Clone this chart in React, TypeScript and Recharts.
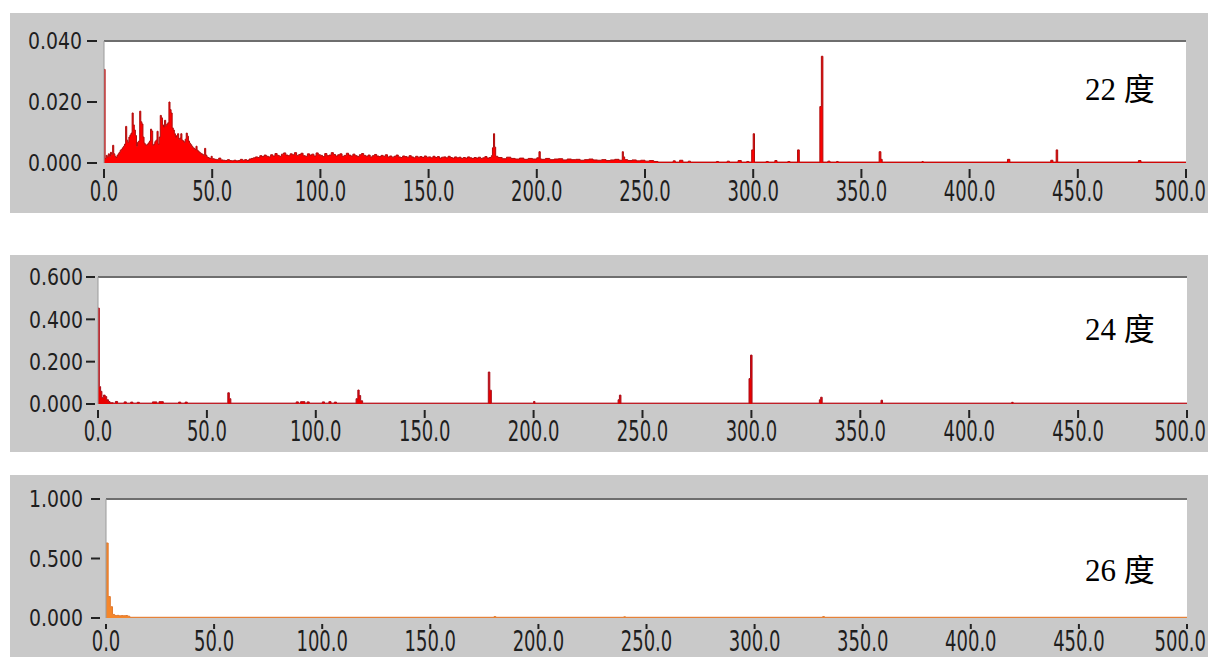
import { AreaChart, Area, XAxis, YAxis, CartesianGrid, ReferenceLine } from 'recharts'

const xTicks = [0, 50, 100, 150, 200, 250, 300, 350, 400, 450, 500]
const yTicks22 = [0, 0.02, 0.04]
const yTicks24 = [0, 0.2, 0.4, 0.6]
const yTicks26 = [0, 0.5, 1]
const panelLabels = ['22 度', '24 度', '26 度']

// [frequency, amplitude] (step plot)
const spec22: [number, number][] = [
    [0, 0.0307], [0.5, 0.0015], [1, 0.0025], [1.5, 0.002], [2, 0.003], [2.5, 0.0022], [3, 0.0035], [3.5, 0.0028],
    [4, 0.0058], [4.5, 0.003], [5, 0.0022], [5.5, 0.0018], [6, 0.0025], [6.5, 0.003], [7, 0.0035], [7.5, 0.0042],
    [8, 0.0045], [8.5, 0.005], [9, 0.0055], [9.5, 0.0062], [10, 0.012], [10.5, 0.0075], [11, 0.0068], [11.5, 0.0085],
    [12, 0.0092], [12.5, 0.0098], [13, 0.0164], [13.5, 0.0125], [14, 0.0108], [14.5, 0.009], [15, 0.0055], [15.5, 0.0068],
    [16, 0.0072], [16.5, 0.017], [17, 0.0135], [17.5, 0.0128], [18, 0.0085], [18.5, 0.0065], [19, 0.006], [19.5, 0.0058],
    [20, 0.0062], [20.5, 0.0066], [21, 0.0072], [21.5, 0.0111], [22, 0.0105], [22.5, 0.0058], [23, 0.0062], [23.5, 0.007],
    [24, 0.0075], [24.5, 0.0104], [25, 0.0062], [25.5, 0.0085], [26, 0.0156], [26.5, 0.0148], [27, 0.0125], [27.5, 0.0118],
    [28, 0.014], [28.5, 0.0122], [29, 0.0128], [29.5, 0.0132], [30, 0.02], [30.5, 0.0175], [31, 0.0164], [31.5, 0.0115],
    [32, 0.0108], [32.5, 0.0096], [33, 0.0085], [33.5, 0.009], [34, 0.0096], [34.5, 0.0078], [35, 0.0082], [35.5, 0.0096],
    [36, 0.0075], [36.5, 0.0072], [37, 0.0068], [37.5, 0.0078], [38, 0.0098], [38.5, 0.0088], [39, 0.0072], [39.5, 0.0065],
    [40, 0.006], [40.5, 0.0055], [41, 0.005], [41.5, 0.0048], [42, 0.0044], [42.5, 0.0055], [43, 0.0042], [43.5, 0.0038],
    [44, 0.0035], [44.5, 0.0032], [45, 0.003], [45.5, 0.0028], [46, 0.0024], [46.5, 0.0048], [47, 0.0026], [47.5, 0.002],
    [48, 0.0018], [48.5, 0.0016], [49, 0.0015], [49.5, 0.0022], [50, 0.0014], [51, 0.0012], [52, 0.0011], [53, 0.0016],
    [54, 0.001], [55, 0.0009], [56, 0.0008], [57, 0.0011], [58, 0.0008], [59, 0.0007], [60, 0.0009], [61, 0.0007],
    [62, 0.0008], [63, 0.0012], [64, 0.0009], [65, 0.0011], [66, 0.0008], [67, 0.0013], [68, 0.0015], [69, 0.0017],
    [70, 0.002], [71, 0.0018], [72, 0.0024], [73, 0.0021], [74, 0.0026], [75, 0.0022], [76, 0.002], [77, 0.0027],
    [78, 0.0023], [79, 0.0031], [80, 0.0025], [81, 0.0022], [82, 0.0029], [83, 0.0033], [84, 0.0026], [85, 0.0024],
    [86, 0.003], [87, 0.0027], [88, 0.0034], [89, 0.0025], [90, 0.0028], [91, 0.0032], [92, 0.0024], [93, 0.0022],
    [94, 0.003], [95, 0.0026], [96, 0.0029], [97, 0.0023], [98, 0.0033], [99, 0.0027], [100, 0.0025], [101, 0.0021],
    [102, 0.0031], [103, 0.0024], [104, 0.0026], [105, 0.0034], [106, 0.0028], [107, 0.0023], [108, 0.0027], [109, 0.003],
    [110, 0.0022], [111, 0.0025], [112, 0.0032], [113, 0.0026], [114, 0.0023], [115, 0.0029], [116, 0.0024], [117, 0.0021],
    [118, 0.0027], [119, 0.0031], [120, 0.0025], [121, 0.0022], [122, 0.0026], [123, 0.002], [124, 0.0024], [125, 0.0028],
    [126, 0.0023], [127, 0.0021], [128, 0.0025], [129, 0.0022], [130, 0.0027], [131, 0.002], [132, 0.0023], [133, 0.0019],
    [134, 0.0022], [135, 0.0026], [136, 0.002], [137, 0.0018], [138, 0.0023], [139, 0.0021], [140, 0.0019], [141, 0.0024],
    [142, 0.002], [143, 0.0017], [144, 0.0022], [145, 0.0019], [146, 0.0021], [147, 0.0018], [148, 0.0023], [149, 0.0019],
    [150, 0.002], [151, 0.0017], [152, 0.0022], [153, 0.0018], [154, 0.0021], [155, 0.0016], [156, 0.0019], [157, 0.002],
    [158, 0.0017], [159, 0.0022], [160, 0.0018], [161, 0.0016], [162, 0.002], [163, 0.0017], [164, 0.0019], [165, 0.0015],
    [166, 0.0018], [167, 0.0016], [168, 0.002], [169, 0.0017], [170, 0.0015], [171, 0.0018], [172, 0.0016], [173, 0.0019],
    [174, 0.0015], [175, 0.0017], [176, 0.0021], [177, 0.0016], [178, 0.0018], [179, 0.0024], [179.5, 0.005], [180, 0.0096],
    [180.5, 0.0052], [181, 0.0022], [182, 0.0018], [184, 0.0014], [186, 0.0019], [188, 0.0015], [190, 0.0013], [192, 0.0016],
    [194, 0.0012], [196, 0.0015], [198, 0.0013], [200, 0.0017], [201, 0.0037], [201.6, 0.0014], [202, 0.0012], [204, 0.0015],
    [206, 0.0011], [208, 0.0013], [210, 0.0014], [212, 0.001], [214, 0.0013], [216, 0.0011], [218, 0.0012], [220, 0.0009],
    [222, 0.0011], [224, 0.0013], [226, 0.001], [228, 0.0009], [230, 0.0011], [232, 0.0008], [234, 0.001], [236, 0.0012],
    [238, 0.0009], [239.5, 0.0037], [240, 0.002], [240.6, 0.0011], [242, 0.0008], [244, 0.001], [246, 0.0007], [248, 0.0009],
    [250, 0.0006], [252, 0.0008], [254, 0.0005], [256, 0.0003], [263, 0.0007], [264, 0.0003], [266, 0.0009], [267.5, 0.0003],
    [270, 0.0006], [271, 0.0003], [283, 0.0005], [284, 0.0003], [288, 0.0006], [289, 0.0003], [293, 0.0008], [294.5, 0.0003],
    [297, 0.0005], [298, 0.0003], [299.3, 0.0043], [300, 0.0096], [300.6, 0.0003], [306, 0.0005], [307, 0.0003], [310, 0.0008],
    [311, 0.0003], [316, 0.0005], [317, 0.0003], [320.5, 0.0043], [321.3, 0.0003], [330.8, 0.0185], [331.5, 0.035], [332.2, 0.0003],
    [334.5, 0.0006], [335.5, 0.0003], [338.5, 0.0005], [339.3, 0.0003], [358.2, 0.0037], [359, 0.0012], [359.6, 0.0003], [378, 0.0005],
    [378.6, 0.0003], [417.5, 0.0012], [418.6, 0.0003], [437.5, 0.0009], [438.5, 0.0003], [440, 0.0043], [440.7, 0.0003], [478, 0.0008],
    [479.2, 0.0003], [500, 0.0003],
]

// 24 度 trace
const spec24: [number, number][] = [
    [0, 0.453], [0.6, 0.082], [1.2, 0.06], [1.8, 0.03], [2.5, 0.042], [3.3, 0.035], [4, 0.02], [4.8, 0.012],
    [5.5, 0.006], [7, 0.004], [8, 0.012], [9, 0.004], [12, 0.01], [13, 0.004], [15, 0.009], [16, 0.004],
    [18, 0.008], [19, 0.004], [25, 0.01], [27, 0.004], [28, 0.011], [30, 0.004], [37, 0.009], [38, 0.004],
    [40, 0.009], [41, 0.004], [59.6, 0.053], [60.3, 0.025], [61, 0.004], [91, 0.01], [92, 0.004], [93, 0.011],
    [95, 0.004], [96, 0.01], [97, 0.004], [103, 0.01], [104, 0.004], [106, 0.011], [107, 0.004], [108.5, 0.009],
    [109.5, 0.004], [118.5, 0.025], [119.3, 0.066], [119.9, 0.04], [120.6, 0.015], [121.5, 0.004], [179.2, 0.151], [179.9, 0.065],
    [180.6, 0.004], [200, 0.012], [200.6, 0.004], [238.8, 0.02], [239.4, 0.042], [240.1, 0.004], [298.9, 0.12], [299.6, 0.231],
    [300.3, 0.004], [331.2, 0.02], [331.8, 0.032], [332.5, 0.004], [359.5, 0.018], [360.2, 0.004], [419.5, 0.008], [420.2, 0.004],
    [500, 0.004],
]

// 26 度 trace
const spec26: [number, number][] = [
    [0, 0.63], [1, 0.18], [2, 0.095], [3, 0.03], [4, 0.02], [5, 0.022], [6, 0.018], [7, 0.02],
    [8, 0.019], [9, 0.021], [10, 0.015], [11, 0.006], [179.5, 0.012], [180.3, 0.006], [239.5, 0.01], [240.3, 0.006],
    [331.5, 0.012], [332.3, 0.006], [500, 0.006],
]

const AXIS_FONT = "'DejaVu Sans Condensed', 'DejaVu Sans', sans-serif"
const GRAY = '#c9c9c9'

type PanelProps = {
    top: number
    height: number
    plotTop: number
    plotBottom: number
    plotLeft: number
    plotRight: number
    labelRight: number
    dash: [number, number]
    xLabelDrop: number
    xTickLen: number
    spec: [number, number][]
    yTicks: number[]
    fill: string
    stroke: string
    label: string
    labelBaseline: number
}

function Panel(p: PanelProps) {
    const rows = p.spec.map(([x, y]) => ({ x, y }))
    const yMax = p.yTicks[p.yTicks.length - 1]

    const xTick = (t: any) => {
        const v = Number(t.payload.value)
        // the last label would run past the right edge, so pin it inside
        const last = v === 500
        return (
            <g>
                <line x1={t.x} x2={t.x} y1={t.y + 6} y2={t.y + 6 + p.xTickLen} stroke="#222" strokeWidth={2} />
                <text
                    transform={`translate(${last ? 1196 : t.x} ${t.y + p.xLabelDrop}) scale(1 1.4)`}
                    textAnchor={last ? 'end' : 'middle'}
                    fontSize={20}
                    fontFamily={AXIS_FONT}
                    fill="#1e1e1e"
                >
                    {v.toFixed(1)}
                </text>
            </g>
        )
    }

    const yTick = (t: any) => (
        <g>
            <line x1={p.dash[0]} x2={p.dash[1]} y1={t.y} y2={t.y} stroke="#222" strokeWidth={2} />
            <text
                transform={`translate(${p.labelRight} ${t.y}) scale(1 1.12)`}
                textAnchor="end"
                dominantBaseline="central"
                fontSize={21}
                fontFamily={AXIS_FONT}
                fill="#1e1e1e"
            >
                {Number(t.payload.value).toFixed(3)}
            </text>
        </g>
    )

    return (
        <>
            <div style={{ position: 'absolute', left: 10, top: p.top, width: 1198, height: p.height, background: GRAY, overflow: 'hidden' }}>
                <AreaChart
                    width={1198}
                    height={p.height}
                    data={rows}
                    margin={{ top: p.plotTop - p.top, right: 1208 - p.plotRight, bottom: 0, left: 0 }}
                >
                    <CartesianGrid fill="#ffffff" fillOpacity={1} horizontal={false} vertical={false} />
                    <XAxis
                        type="number"
                        dataKey="x"
                        domain={[0, 500]}
                        ticks={xTicks}
                        interval={0}
                        height={p.top + p.height - p.plotBottom}
                        axisLine={false}
                        tickLine={false}
                        tickSize={0}
                        tickMargin={0}
                        tick={xTick}
                        allowDataOverflow
                    />
                    <YAxis
                        type="number"
                        domain={[0, yMax]}
                        ticks={p.yTicks}
                        interval={0}
                        width={p.plotLeft - 10}
                        axisLine={{ stroke: '#9a9a9a' }}
                        tickLine={false}
                        tickSize={0}
                        tickMargin={0}
                        tick={yTick}
                        allowDataOverflow
                    />
                    <ReferenceLine y={yMax} stroke="#6e6e6e" strokeWidth={2} />
                    <Area
                        type="stepAfter"
                        dataKey="y"
                        fill={p.fill}
                        fillOpacity={1}
                        stroke={p.stroke}
                        strokeWidth={1}
                        dot={false}
                        activeDot={false}
                        isAnimationActive={false}
                    />
                </AreaChart>
            </div>
            <div
                style={{
                    position: 'absolute',
                    left: 1085,
                    top: p.labelBaseline - 26,
                    fontFamily: "'Liberation Serif', 'Noto Sans CJK SC', serif",
                    fontSize: 31,
                    lineHeight: '31px',
                    color: '#000',
                    whiteSpace: 'nowrap',
                }}
            >
                {p.label}
            </div>
        </>
    )
}

export default function App() {
    return (
        <div style={{ position: 'absolute', left: 0, top: 0, width: 1208, height: 657, background: '#fff', overflow: 'hidden' }}>
            <Panel
                top={13} height={200} plotTop={41} plotBottom={163} plotLeft={104} plotRight={1186}
                labelRight={72} dash={[77, 87]} xLabelDrop={38} xTickLen={9}
                spec={spec22} yTicks={yTicks22} fill="#ff0000" stroke="#b00c0c"
                label={panelLabels[0]} labelBaseline={100}
            />
            <Panel
                top={255} height={197} plotTop={277} plotBottom={404} plotLeft={98} plotRight={1187}
                labelRight={73} dash={[76, 85]} xLabelDrop={37} xTickLen={8}
                spec={spec24} yTicks={yTicks24} fill="#e80000" stroke="#a8101c"
                label={panelLabels[1]} labelBaseline={340}
            />
            <Panel
                top={475} height={182} plotTop={499} plotBottom={618} plotLeft={106} plotRight={1187}
                labelRight={73} dash={[81, 90]} xLabelDrop={33} xTickLen={5}
                spec={spec26} yTicks={yTicks26} fill="#f5862a" stroke="#e07a30"
                label={panelLabels[2]} labelBaseline={581}
            />
        </div>
    )
}
